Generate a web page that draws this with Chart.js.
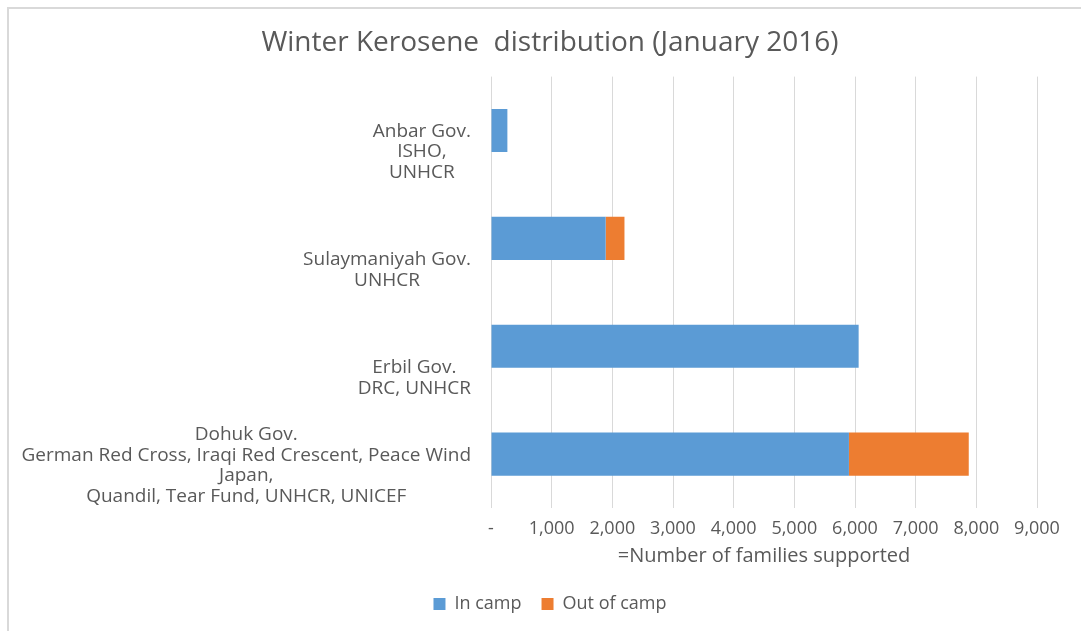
<!DOCTYPE html>
<html>
<head>
<meta charset="utf-8">
<script src="https://cdn.jsdelivr.net/npm/chart.js@4.4.1/dist/chart.umd.min.js"></script>
<style>
  body { margin: 0; background: #fff; }
  #frame {
    position: absolute; left: 7px; top: 7px; width: 1072px; height: 622px;
    border-top: 2px solid #d9d9d9; border-left: 2px solid #d9d9d9;
  }
  #wrap { position: relative; width: 1072px; height: 622px; }
</style>
</head>
<body>
<div id="frame"><div id="wrap"><canvas id="myCanvas"></canvas></div></div>
<script>
// data
var govLabels = [
    ["Anbar Gov.", "ISHO,", "UNHCR"],
    ["Sulaymaniyah Gov.", "UNHCR"],
    ["Erbil Gov.", "DRC, UNHCR"],
    ["Dohuk Gov.", "German Red Cross, Iraqi Red Crescent, Peace Wind", "Japan,", "Quandil, Tear Fund, UNHCR, UNICEF"]
];
var in_camp = [270, 1890, 6060, 5900];
var out_of_camp = [0, 310, 0, 1975];
var x_max = 9000;
var x_step = 1000;

var textColor = '#595959';
var fontName = "'Open Sans', sans-serif";

// Excel style category labels: block right aligned, lines centered inside block,
// bottom line sitting near the bottom of the category slot
var blockLabels = {
    id: 'blockLabels',
    afterDraw: function(chart) {
        var sc = chart.scales.y;
        var ctx = chart.ctx;
        var slot = sc.height / govLabels.length;
        var lineH = 20.5;
        ctx.save();
        ctx.font = "19px " + fontName;
        ctx.fillStyle = textColor;
        ctx.textAlign = 'center';
        ctx.textBaseline = 'middle';
        for (var i = 0; i < govLabels.length; i++) {
            var lines = govLabels[i];
            var w = 0;
            for (var j = 0; j < lines.length; j++) {
                w = Math.max(w, ctx.measureText(lines[j]).width);
            }
            var cx = sc.right - 20 - w / 2;
            var bottom = sc.getPixelForTick(i) + slot * 0.39;
            for (var j = 0; j < lines.length; j++) {
                ctx.fillText(lines[j], cx, bottom - (lines.length - 1 - j) * lineH);
            }
        }
        ctx.restore();
    }
};

var myChart = new Chart(document.getElementById("myCanvas"), {
    type: 'bar',
    data: {
        labels: govLabels,
        datasets: [{
            label: 'In camp',
            data: in_camp,
            backgroundColor: '#5b9bd5',
            barPercentage: 0.5,
            categoryPercentage: 0.8
        }, {
            label: 'Out of camp',
            data: out_of_camp,
            backgroundColor: '#ed7d31',
            barPercentage: 0.5,
            categoryPercentage: 0.8
        }]
    },
    options: {
        indexAxis: 'y',
        responsive: true,
        maintainAspectRatio: false,
        animation: false,
        layout: { padding: { left: 54, right: 44, top: 12, bottom: 8 } },
        plugins: {
            title: {
                display: true,
                text: 'Winter Kerosene  distribution (January 2016)',
                color: textColor,
                font: { family: fontName, size: 28, weight: 'normal' },
                padding: { top: 5, bottom: 17 }
            },
            legend: {
                position: 'bottom',
                labels: {
                    color: textColor,
                    boxWidth: 12,
                    boxHeight: 12,
                    padding: 20,
                    font: { family: fontName, size: 18 }
                }
            },
            tooltip: { enabled: false }
        },
        scales: {
            x: {
                stacked: true,
                min: 0,
                max: x_max,
                grid: { color: '#d9d9d9', drawTicks: false },
                border: { display: false },
                ticks: {
                    stepSize: x_step,
                    padding: 10,
                    color: textColor,
                    font: { family: fontName, size: 18 },
                    callback: function(v) { return v === 0 ? '-' : v.toLocaleString('en-US'); }
                },
                title: {
                    display: true,
                    text: '=Number of families supported',
                    color: textColor,
                    font: { family: fontName, size: 20 },
                    padding: { top: 0, bottom: 7 }
                },
                afterFit: function(s) { s.height = 67; }
            },
            y: {
                stacked: true,
                grid: { display: false },
                border: { display: false },
                ticks: { color: 'rgba(0,0,0,0)', font: { family: fontName, size: 17 } },
                afterFit: function(s) { s.width = 428; }
            }
        }
    },
    plugins: [blockLabels]
});
</script>
</body>
</html>
